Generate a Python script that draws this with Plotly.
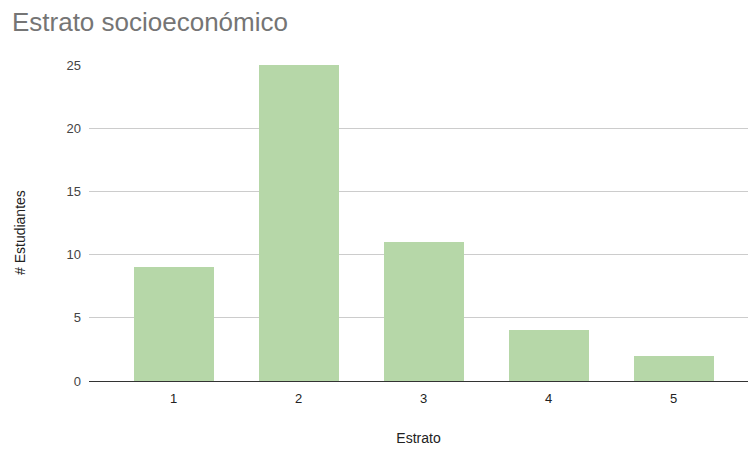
import plotly.graph_objects as go

categories = [1, 2, 3, 4, 5]
values = [9, 25, 11, 4, 2]
tick_labels = ["1", "2", "3", "4", "5"]

FONT = "Liberation Sans, Arial, sans-serif"

fig = go.Figure(go.Bar(
    x=categories, y=values, width=0.64,
    marker=dict(color="#b6d7a8", line=dict(width=0)),
))

fig.update_layout(
    width=748, height=450,
    margin=dict(l=89, r=0, t=65, b=69),
    paper_bgcolor="white", plot_bgcolor="white",
    font=dict(family=FONT, size=13, color="#444444"),
    title=dict(text="Estrato socioeconómico", x=0.016, xanchor="left",
               y=0.951, yanchor="middle",
               font=dict(family=FONT, size=26, color="#757575")),
    showlegend=False,
    bargap=0,
    annotations=[dict(
        text="# Estudiantes", textangle=-90,
        xref="paper", yref="paper",
        x=(20 - 89) / 659, y=(381 - 233) / 316,
        xanchor="center", yanchor="middle", showarrow=False,
        font=dict(family=FONT, size=14, color="#222222"),
    )],
)
fig.update_xaxes(
    range=[0.324, 5.596], tickvals=categories, ticktext=tick_labels,
    showgrid=False, zeroline=False, showline=True, linecolor="#333333", linewidth=1,
    ticks="", tickfont=dict(size=13, color="#222222"), ticklabelstandoff=5,
    title=dict(text="Estrato", font=dict(size=14, color="#222222"), standoff=28),
)
fig.update_yaxes(
    range=[0, 25], tickvals=[0, 5, 10, 15, 20, 25],
    showgrid=True, gridcolor="#cccccc", gridwidth=1, zeroline=False,
    ticks="", tickfont=dict(size=13, color="#444444"), ticklabelstandoff=7,
)

fig.write_html("out.html")
